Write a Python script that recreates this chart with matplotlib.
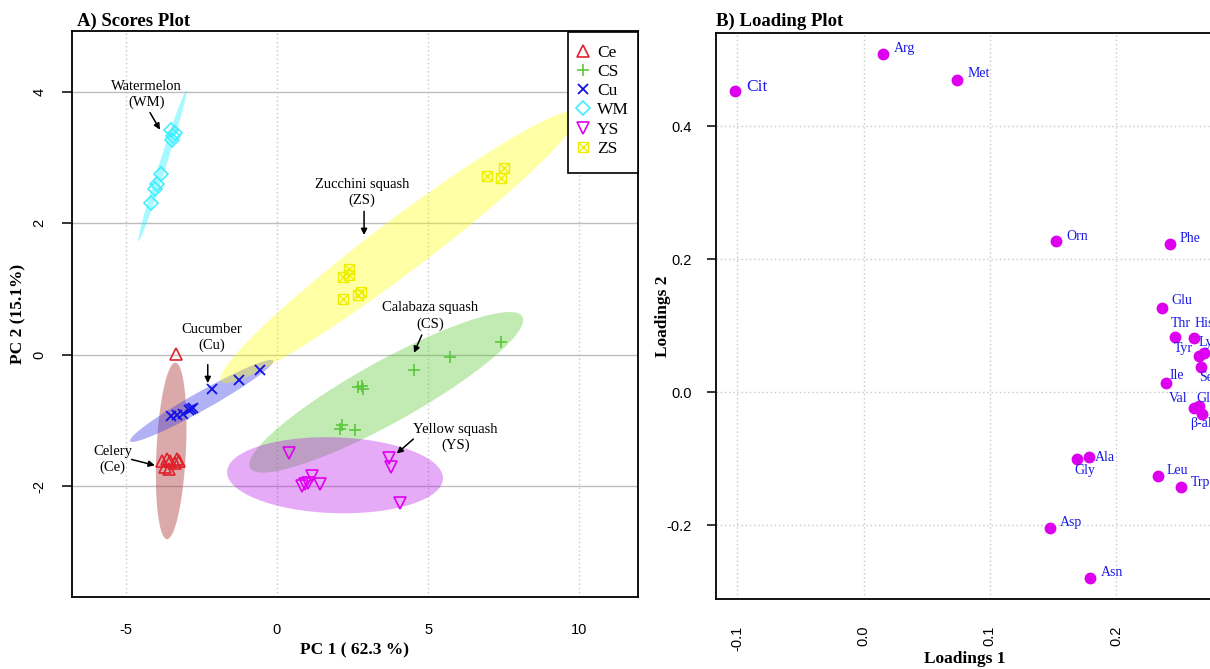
import numpy as np
import matplotlib
matplotlib.use("Agg")
import matplotlib.pyplot as plt
from matplotlib.lines import Line2D
from matplotlib.patches import Rectangle
from matplotlib.legend_handler import HandlerTuple

plt.rcParams['font.family'] = ['Liberation Serif', 'DejaVu Serif']
plt.rcParams['axes.unicode_minus'] = False

# ---------------- data: scores ----------------
groups = ['Ce', 'CS', 'Cu', 'WM', 'YS', 'ZS']
ce_x = [-3.34, -3.81, -3.65, -3.54, -3.32, -3.23, -3.70, -3.56, -3.37]
ce_y = [0.01, -1.62, -1.59, -1.62, -1.59, -1.62, -1.71, -1.73, -1.65]
cs_x = [7.41, 5.72, 4.54, 2.69, 2.80, 2.83, 2.14, 2.08, 2.58]
cs_y = [0.19, -0.04, -0.23, -0.49, -0.47, -0.52, -1.06, -1.13, -1.14]
cu_x = [-3.50, -3.31, -3.11, -2.91, -2.79, -2.84, -2.16, -1.26, -0.56]
cu_y = [-0.93, -0.92, -0.90, -0.84, -0.81, -0.83, -0.52, -0.39, -0.23]
wm_x = [-3.50, -3.37, -3.43, -3.48, -3.84, -3.98, -4.04, -4.18]
wm_y = [3.41, 3.37, 3.33, 3.26, 2.74, 2.60, 2.52, 2.31]
ys_x = [0.39, 0.82, 0.93, 1.04, 1.15, 1.42, 3.72, 3.76, 4.07]
ys_y = [-1.49, -2.00, -1.97, -1.95, -1.84, -1.97, -1.57, -1.71, -2.25]
zs_x = [2.19, 2.38, 2.38, 2.19, 2.78, 2.68, 6.94, 7.41, 7.51]
zs_y = [1.18, 1.31, 1.22, 0.85, 0.95, 0.91, 2.71, 2.69, 2.84]

# ellipse parameters per group: centre x, centre y, half-extent x, half-extent y, correlation
ell_cx = [-3.50, 3.61, -2.49, -3.79, 1.92, 4.05]
ell_cy = [-1.46, -0.57, -0.70, 2.87, -1.83, 1.64]
ell_hx = [0.506, 4.53, 2.37, 0.80, 3.57, 5.92]
ell_hy = [1.341, 1.22, 0.623, 1.145, 0.578, 2.07]
ell_rho = [0.27, 0.90, 0.967, 0.988, -0.08, 0.970]

annot_text = ['Watermelon\n(WM)', 'Zucchini squash\n(ZS)', 'Cucumber\n(Cu)',
              'Celery\n(Ce)', 'Calabaza squash\n(CS)', 'Yellow squash\n(YS)']

# ---------------- data: loadings ----------------
load_names = ['Cit', 'Arg', 'Met', 'Orn', 'Phe', 'Glu', 'Thr', 'His', 'Tyr', 'Lys',
              'Ser', 'Ile', 'Val', 'Gln', 'β-ala', 'Ala', 'Gly', 'Leu', 'Trp', 'Asp', 'Asn']
load_x = [-0.1023, 0.0155, 0.0743, 0.1527, 0.2430, 0.2362, 0.2467, 0.2615, 0.2659, 0.2697,
          0.2675, 0.2393, 0.2620, 0.2655, 0.2678, 0.1788, 0.1693, 0.2330, 0.2512, 0.1476, 0.1797]
load_y = [0.453, 0.509, 0.470, 0.2266, 0.2226, 0.1263, 0.0823, 0.0817, 0.0540, 0.0582,
          0.0381, 0.0140, -0.0233, -0.0210, -0.0330, -0.0982, -0.1003, -0.1263, -0.1429, -0.2035, -0.2790]

# ---------------- styles / positions ----------------
W, H = 1210, 669
fig = plt.figure(figsize=(W / 100, H / 100), dpi=100)
axA = fig.add_axes([72 / W, 1 - 597 / H, (638 - 72) / W, (597 - 31) / H])
axB = fig.add_axes([716 / W, 1 - 599 / H, (1214 - 716) / W, (599 - 33) / H])

tick_font = dict(family=['Liberation Sans', 'DejaVu Sans'], size=10.5)

# ---- Panel A ----
axA.set_xlim(-6.78, 11.94)
axA.set_ylim(-3.68, 4.92)
xtA = [-5, 0, 5, 10]
ytA = [-2, 0, 2, 4]
for v in xtA:
    axA.axvline(v, color='#C8C8C8', lw=1.0, ls=(0, (1, 2)), zorder=0)
for v in ytA:
    axA.axhline(v, color='#BDBDBD', lw=1.0, zorder=0)

fills = [('#A52A2A', 0.40), ('#50C828', 0.35), ('#3C3CE6', 0.40),
         ('#00F0FF', 0.35), ('#B400E6', 0.33), ('#FFFF00', 0.35)]
t = np.linspace(0, 2 * np.pi, 300)
for cx, cy, hx, hy, r, (c, a) in zip(ell_cx, ell_cy, ell_hx, ell_hy, ell_rho, fills):
    ex = cx + hx * np.cos(t)
    ey = cy + hy * (r * np.cos(t) + np.sqrt(1 - r ** 2) * np.sin(t))
    axA.fill(ex, ey, color=c, alpha=a, lw=0, zorder=1)

c_ce, c_cs, c_cu, c_wm, c_ys, c_zs = '#E0202A', '#5CC83C', '#1010E8', '#40EEFF', '#E000F0', '#EEEE00'
axA.plot(ce_x, ce_y, ls='none', marker='^', ms=8, mfc='none', mec=c_ce, mew=1.2, zorder=3)
axA.plot(cs_x, cs_y, ls='none', marker='+', ms=9, mec=c_cs, mew=1.2, zorder=3)
axA.plot(cu_x, cu_y, ls='none', marker='x', ms=6.5, mec=c_cu, mew=1.3, zorder=3)
axA.plot(wm_x, wm_y, ls='none', marker='D', ms=7, mfc='none', mec=c_wm, mew=1.2, zorder=3)
axA.plot(ys_x, ys_y, ls='none', marker='v', ms=8, mfc='none', mec=c_ys, mew=1.2, zorder=3)
axA.plot(zs_x, zs_y, ls='none', marker='s', ms=6.5, mfc='none', mec=c_zs, mew=1.0, zorder=3)
axA.plot(zs_x, zs_y, ls='none', marker='x', ms=6.5, mec=c_zs, mew=1.0, zorder=3)

# annotations (text centre, arrow start, arrow end) in data units
annot_pos = [(-4.31, 3.96), (2.81, 2.47), (-2.15, 0.26), (-5.43, -1.59), (5.06, 0.59), (5.90, -1.26)]
arrow_from = [(-4.20, 3.68), (2.88, 2.18), (-2.29, -0.15), (-4.81, -1.59), (4.79, 0.30), (4.51, -1.28)]
arrow_to = [(-3.87, 3.42), (2.88, 1.82), (-2.29, -0.43), (-4.04, -1.68), (4.53, 0.03), (3.96, -1.50)]
for txt, p, a0, a1 in zip(annot_text, annot_pos, arrow_from, arrow_to):
    axA.text(p[0], p[1], txt, ha='center', va='center', fontsize=10.5, linespacing=1.25, zorder=4)
    axA.annotate('', xy=a1, xytext=a0,
                 arrowprops=dict(arrowstyle='-|>', color='black', lw=1.1, mutation_scale=9,
                                 shrinkA=0, shrinkB=0), zorder=4)

hA = [Line2D([], [], ls='none', marker='^', ms=8, mfc='none', mec=c_ce, mew=1.2),
      Line2D([], [], ls='none', marker='+', ms=9, mec=c_cs, mew=1.2),
      Line2D([], [], ls='none', marker='x', ms=6.5, mec=c_cu, mew=1.3),
      Line2D([], [], ls='none', marker='D', ms=7, mfc='none', mec=c_wm, mew=1.2),
      Line2D([], [], ls='none', marker='v', ms=8, mfc='none', mec=c_ys, mew=1.2),
      (Line2D([], [], ls='none', marker='s', ms=6.5, mfc='none', mec=c_zs, mew=1.0),
       Line2D([], [], ls='none', marker='x', ms=6.5, mec=c_zs, mew=1.0))]
# legend box
box = Rectangle((567.7 / W, 1 - 172.7 / H), (638 - 567.7) / W, (172.7 - 31.5) / H,
                transform=fig.transFigure, facecolor='white', edgecolor='black',
                lw=1.2, zorder=9, clip_on=False)
axA.add_patch(box)
leg = axA.legend(hA, groups, loc='upper left', bbox_to_anchor=(574 / W, 1 - 44.5 / H),
                 bbox_transform=fig.transFigure, borderaxespad=0, borderpad=0,
                 frameon=False, fontsize=12.5,
                 handlelength=1.0, handletextpad=0.34, labelspacing=0.18,
                 handler_map={tuple: HandlerTuple(ndivide=1)})
leg.set_zorder(10)

axA.set_xticks(xtA)
axA.set_xticklabels([str(v) for v in xtA], fontdict=tick_font)
axA.set_yticks(ytA)
axA.set_yticklabels([str(v) for v in ytA], fontdict=tick_font, rotation=90, va='center')
axA.tick_params(axis='x', length=0, pad=19)
axA.tick_params(axis='y', length=7.4, width=1.1, pad=11)
for s in axA.spines.values():
    s.set_linewidth(1.3)

# ---- Panel B ----
axB.set_xlim(-0.117, 0.2776)
axB.set_ylim(-0.311, 0.540)
xtB = [-0.1, 0.0, 0.1, 0.2]
ytB = [-0.2, 0.0, 0.2, 0.4]
for v in xtB:
    axB.axvline(v, color='#C8C8C8', lw=1.0, ls=(0, (1, 2)), zorder=0)
for v in ytB:
    axB.axhline(v, color='#C8C8C8', lw=1.0, ls=(0, (1, 2)), zorder=0)

axB.plot(load_x, load_y, ls='none', marker='o', ms=7.5, mfc='#DD00EE', mec='#DD00EE', zorder=3)

label_off = {'Cit': (12, -4, 'left'), 'Arg': (11, -5, 'left'), 'Met': (10, -6, 'left'),
             'Orn': (10, -5, 'left'), 'Phe': (9, -6, 'left'), 'Glu': (10, -8, 'left'),
             'Thr': (-4, -14, 'left'), 'His': (1, -14, 'left'), 'Tyr': (-6, -8, 'right'),
             'Lys': (-5, -11, 'left'), 'Ser': (-2, 11, 'left'), 'Ile': (4, -7, 'left'),
             'Val': (-7, -9, 'right'), 'Gln': (-2, -8, 'left'), 'β-ala': (-12, 9, 'left'),
             'Ala': (6, 0, 'left'), 'Gly': (-3, 12, 'left'), 'Leu': (9, -6, 'left'),
             'Trp': (10, -5, 'left'), 'Asp': (10, -5, 'left'), 'Asn': (10, -5, 'left')}
for n, x, y in zip(load_names, load_x, load_y):
    dx, dy, ha = label_off[n]
    axB.annotate(n, xy=(x, y), xytext=(dx, -dy), textcoords='offset pixels',
                 ha=ha, va='center', color='#1A1AE6',
                 fontsize=12.5 if n == 'Cit' else 10, zorder=4, annotation_clip=False)

axB.set_xticks(xtB)
axB.set_xticklabels(['-0.1', '0.0', '0.1', '0.2'], fontdict=tick_font, rotation=90)
axB.set_yticks(ytB)
axB.set_yticklabels(['-0.2', '0.0', '0.2', '0.4'], fontdict=tick_font)
axB.tick_params(axis='x', length=0, pad=19)
axB.tick_params(axis='y', length=6.7, width=1.1, pad=10.8)
for s in axB.spines.values():
    s.set_linewidth(1.3)

# ---- titles & axis labels ----
fig.text(77 / W, 1 - 26 / H, 'A) Scores Plot', fontsize=13.5, fontweight='bold', va='baseline', ha='left')
fig.text(716 / W, 1 - 26 / H, 'B) Loading Plot', fontsize=13.5, fontweight='bold', va='baseline', ha='left')
fig.text(355 / W, 1 - 650 / H, 'PC 1 ( 62.3 %)', fontsize=12.5, fontweight='bold', ha='center', va='center')
fig.text(18 / W, 1 - 314 / H, 'PC 2 (15.1%)', fontsize=12.5, fontweight='bold', ha='center', va='center', rotation=90)
fig.text(965 / W, 1 - 659 / H, 'Loadings 1', fontsize=12.5, fontweight='bold', ha='center', va='center')
fig.text(663 / W, 1 - 316 / H, 'Loadings 2', fontsize=12.5, fontweight='bold', ha='center', va='center', rotation=90)

fig.savefig('out.png', dpi=100)
